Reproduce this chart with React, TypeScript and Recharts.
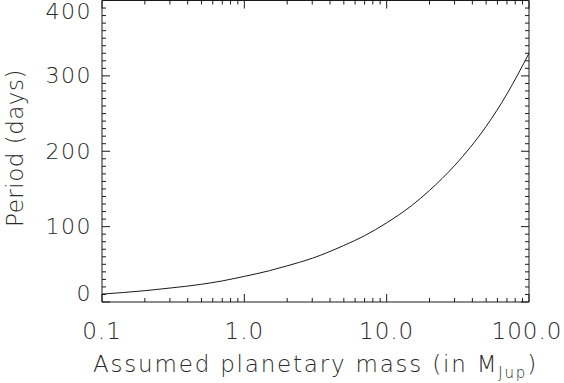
import React from 'react';
import { LineChart, Line, XAxis, YAxis, ReferenceArea } from 'recharts';

// Data
const massJup = [0.1, 0.2, 0.3, 0.5, 0.7, 1, 1.5, 2, 3, 5, 7, 10, 15, 20, 30, 50, 70, 100];
const periodDays = [10.5, 15, 18.5, 23.5, 28, 34, 41.5, 48, 58, 75, 88, 105, 128, 148, 181, 233, 276, 330];

const xMajorTicks = [0.1, 1, 10, 100];
const xTickLabels = ['0.1', '1.0', '10.0', '100.0'];
const xMinorTicks = [0.2, 0.3, 0.4, 0.5, 0.6, 0.7, 0.8, 0.9, 2, 3, 4, 5, 6, 7, 8, 9, 20, 30, 40, 50, 60, 70, 80, 90];
const yMajorTicks = [0, 100, 200, 300, 400];
const yTickLabels = ['0', '100', '200', '300', '400'];
const yMinorTicks = [10, 20, 30, 40, 50, 60, 70, 80, 90, 110, 120, 130, 140, 150, 160, 170, 180, 190,
  210, 220, 230, 240, 250, 260, 270, 280, 290, 310, 320, 330, 340, 350, 360, 370, 380, 390];

const xTitle = 'Assumed planetary mass (in M';
const xTitleSub = 'Jup';
const yTitle = 'Period (days)';

const data = massJup.map((m, i) => ({ m, p: periodDays[i] }));

const W = 564;
const H = 383;
const Y_AXIS_W = 102;
const X_AXIS_H = 81;
const MARGIN = { top: 0.5, right: 35, bottom: 0, left: 0 };
const PLOT_TOP = MARGIN.top;
const PLOT_LEFT = Y_AXIS_W;
const PLOT_RIGHT = W - MARGIN.right;
const PLOT_BOTTOM = H - X_AXIS_H;

const INK = '#1a1a1a';
const TEXT = '#2a2a2a';
const FONT = '"DejaVu Sans", sans-serif';
const FW = 200;
const FS = 23;

const near = (a: number, b: number) => Math.abs(a - b) < 1e-9 * Math.max(1, Math.abs(b));

const XTick = (props: any) => {
  const { x, y, payload } = props;
  const v = payload.value;
  const idx = xMajorTicks.findIndex((t) => near(t, v));
  const major = idx >= 0;
  const len = major ? 8 : 4;
  return (
    <g>
      <line x1={x} y1={y} x2={x} y2={y - len} stroke={INK} strokeWidth={1} />
      <line x1={x} y1={PLOT_TOP} x2={x} y2={PLOT_TOP + len} stroke={INK} strokeWidth={1} />
      {major && (
        <text x={idx === xMajorTicks.length - 1 ? x - 2 : x} y={y + 29} textAnchor="middle" dominantBaseline="central"
          fontFamily={FONT} fontWeight={FW} fontSize={FS} letterSpacing={1} fill={TEXT}>
          {xTickLabels[idx]}
        </text>
      )}
    </g>
  );
};

const YTick = (props: any) => {
  const { x, y, payload } = props;
  const v = payload.value;
  const idx = yMajorTicks.findIndex((t) => near(t, v));
  const major = idx >= 0;
  const len = major ? 8 : 4;
  const ly = Math.min(Math.max(y, PLOT_TOP + 11), PLOT_BOTTOM - 9);
  return (
    <g>
      <line x1={x} y1={y} x2={x + len} y2={y} stroke={INK} strokeWidth={1} />
      <line x1={PLOT_RIGHT} y1={y} x2={PLOT_RIGHT - len} y2={y} stroke={INK} strokeWidth={1} />
      {major && (
        <text x={x - 10} y={ly} textAnchor="end" dominantBaseline="central"
          fontFamily={FONT} fontWeight={FW} fontSize={FS - 1} letterSpacing={1.5} fill={TEXT}>
          {yTickLabels[idx]}
        </text>
      )}
    </g>
  );
};

export default function App() {
  return (
    <div style={{ position: 'absolute', left: 0, top: 0, width: W, height: H, background: '#fff' }}>
      <LineChart width={W} height={H} data={data} margin={MARGIN}>
        <XAxis
          dataKey="m"
          type="number"
          scale="log"
          domain={[0.1, 100]}
          allowDataOverflow
          ticks={[...xMajorTicks, ...xMinorTicks]}
          interval={0}
          tick={<XTick />}
          tickLine={false}
          tickSize={0}
          tickMargin={0}
          height={X_AXIS_H}
          axisLine={false}
        />
        <YAxis
          type="number"
          domain={[0, 400]}
          allowDataOverflow
          ticks={[...yMajorTicks, ...yMinorTicks]}
          interval={0}
          tick={<YTick />}
          tickLine={false}
          tickSize={0}
          tickMargin={0}
          width={Y_AXIS_W}
          axisLine={false}
        />
        <ReferenceArea x1={0.1} x2={100} y1={0} y2={400} fill="none" fillOpacity={0}
          stroke={INK} strokeWidth={1} ifOverflow="visible" />
        <Line dataKey="p" type="monotone" stroke={INK} strokeWidth={1} dot={false}
          isAnimationActive={false} />
      </LineChart>
      <svg width={W} height={H} style={{ position: 'absolute', left: 0, top: 0, pointerEvents: 'none' }}>
        <text x={(PLOT_LEFT + PLOT_RIGHT) / 2} y={372} textAnchor="middle" fontFamily={FONT}
          fontWeight={FW} fontSize={FS} letterSpacing={1.8} fill={TEXT}>
          {xTitle}
          <tspan fontSize={15} dy={6}>{xTitleSub}</tspan>
          <tspan dy={-6}>)</tspan>
        </text>
        <text x={0} y={0} transform={`translate(15, 148) rotate(-90)`} textAnchor="middle"
          dominantBaseline="central" fontFamily={FONT} fontWeight={FW} fontSize={FS}
          letterSpacing={0.5} fill={TEXT}>
          {yTitle}
        </text>
      </svg>
    </div>
  );
}
